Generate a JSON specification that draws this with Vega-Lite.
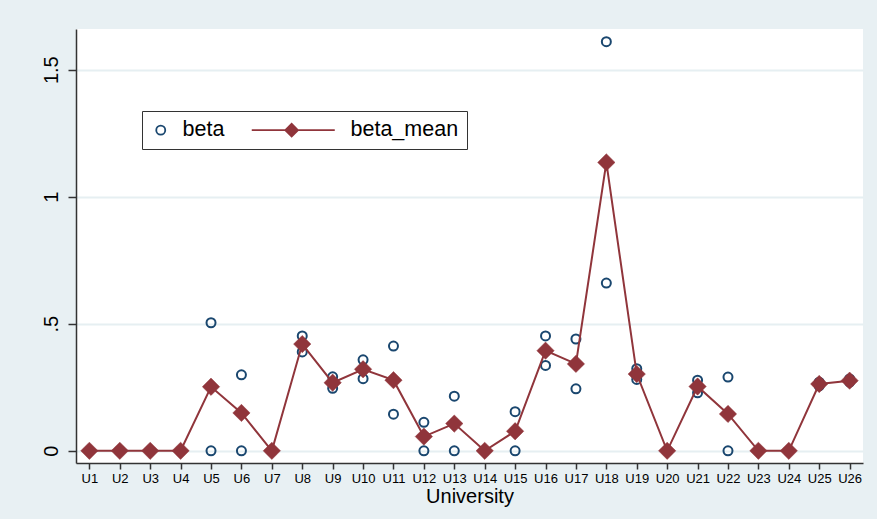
{
  "$schema": "https://vega.github.io/schema/vega-lite/v6.json",
  "width": 787,
  "height": 434,
  "autosize": {"type": "none"},
  "padding": {"left": 76, "top": 29, "right": 14, "bottom": 56},
  "background": "#e8f0f3",
  "config": {
    "view": {"fill": "white", "stroke": null},
    "axis": {"domainColor": "#333", "domainWidth": 1.5, "tickColor": "#333", "tickWidth": 1.5, "labelFont": "Liberation Sans", "titleFont": "Liberation Sans", "labelColor": "#000", "titleColor": "#000", "titleFontWeight": "normal"},
    "legend": {"labelFont": "Liberation Sans", "labelFontSize": 21.5, "labelColor": "#000", "strokeColor": "#333", "fillColor": "#ffffff", "padding": 8, "labelOffset": 11, "columnPadding": 23, "symbolStrokeWidth": 1.8}
  },
  "data": {"values": [
    {"u": "U1", "series": "beta", "value": 0}, {"u": "U1", "series": "beta", "value": 0},
    {"u": "U2", "series": "beta", "value": 0}, {"u": "U2", "series": "beta", "value": 0},
    {"u": "U3", "series": "beta", "value": 0}, {"u": "U3", "series": "beta", "value": 0},
    {"u": "U4", "series": "beta", "value": 0}, {"u": "U4", "series": "beta", "value": 0},
    {"u": "U5", "series": "beta", "value": 0.504}, {"u": "U5", "series": "beta", "value": 0},
    {"u": "U6", "series": "beta", "value": 0.299}, {"u": "U6", "series": "beta", "value": 0},
    {"u": "U7", "series": "beta", "value": 0}, {"u": "U7", "series": "beta", "value": 0},
    {"u": "U8", "series": "beta", "value": 0.452}, {"u": "U8", "series": "beta", "value": 0.389},
    {"u": "U9", "series": "beta", "value": 0.291}, {"u": "U9", "series": "beta", "value": 0.246},
    {"u": "U10", "series": "beta", "value": 0.358}, {"u": "U10", "series": "beta", "value": 0.284},
    {"u": "U11", "series": "beta", "value": 0.412}, {"u": "U11", "series": "beta", "value": 0.144},
    {"u": "U12", "series": "beta", "value": 0.112}, {"u": "U12", "series": "beta", "value": 0},
    {"u": "U13", "series": "beta", "value": 0.215}, {"u": "U13", "series": "beta", "value": 0},
    {"u": "U14", "series": "beta", "value": 0}, {"u": "U14", "series": "beta", "value": 0},
    {"u": "U15", "series": "beta", "value": 0.154}, {"u": "U15", "series": "beta", "value": 0},
    {"u": "U16", "series": "beta", "value": 0.452}, {"u": "U16", "series": "beta", "value": 0.336},
    {"u": "U17", "series": "beta", "value": 0.440}, {"u": "U17", "series": "beta", "value": 0.244},
    {"u": "U18", "series": "beta", "value": 1.610}, {"u": "U18", "series": "beta", "value": 0.660},
    {"u": "U19", "series": "beta", "value": 0.323}, {"u": "U19", "series": "beta", "value": 0.281},
    {"u": "U20", "series": "beta", "value": 0}, {"u": "U20", "series": "beta", "value": 0},
    {"u": "U21", "series": "beta", "value": 0.278}, {"u": "U21", "series": "beta", "value": 0.228},
    {"u": "U22", "series": "beta", "value": 0.290}, {"u": "U22", "series": "beta", "value": 0},
    {"u": "U23", "series": "beta", "value": 0}, {"u": "U23", "series": "beta", "value": 0},
    {"u": "U24", "series": "beta", "value": 0}, {"u": "U24", "series": "beta", "value": 0},
    {"u": "U25", "series": "beta", "value": 0.270}, {"u": "U25", "series": "beta", "value": 0.256},
    {"u": "U26", "series": "beta", "value": 0.283}, {"u": "U26", "series": "beta", "value": 0.270},
    {"u": "U1", "series": "beta_mean", "value": 0},
    {"u": "U2", "series": "beta_mean", "value": 0},
    {"u": "U3", "series": "beta_mean", "value": 0},
    {"u": "U4", "series": "beta_mean", "value": 0},
    {"u": "U5", "series": "beta_mean", "value": 0.252},
    {"u": "U6", "series": "beta_mean", "value": 0.149},
    {"u": "U7", "series": "beta_mean", "value": 0},
    {"u": "U8", "series": "beta_mean", "value": 0.420},
    {"u": "U9", "series": "beta_mean", "value": 0.268},
    {"u": "U10", "series": "beta_mean", "value": 0.321},
    {"u": "U11", "series": "beta_mean", "value": 0.278},
    {"u": "U12", "series": "beta_mean", "value": 0.056},
    {"u": "U13", "series": "beta_mean", "value": 0.107},
    {"u": "U14", "series": "beta_mean", "value": 0},
    {"u": "U15", "series": "beta_mean", "value": 0.077},
    {"u": "U16", "series": "beta_mean", "value": 0.394},
    {"u": "U17", "series": "beta_mean", "value": 0.342},
    {"u": "U18", "series": "beta_mean", "value": 1.135},
    {"u": "U19", "series": "beta_mean", "value": 0.302},
    {"u": "U20", "series": "beta_mean", "value": 0},
    {"u": "U21", "series": "beta_mean", "value": 0.253},
    {"u": "U22", "series": "beta_mean", "value": 0.145},
    {"u": "U23", "series": "beta_mean", "value": 0},
    {"u": "U24", "series": "beta_mean", "value": 0},
    {"u": "U25", "series": "beta_mean", "value": 0.263},
    {"u": "U26", "series": "beta_mean", "value": 0.276}
  ]},
  "encoding": {
    "x": {
      "field": "u", "type": "nominal",
      "scale": {"type": "point", "padding": 0.44, "domain": ["U1","U2","U3","U4","U5","U6","U7","U8","U9","U10","U11","U12","U13","U14","U15","U16","U17","U18","U19","U20","U21","U22","U23","U24","U25","U26"]},
      "axis": {"title": "University", "titleFontSize": 20, "titlePadding": 1, "labelFontSize": 13, "labelAngle": 0, "tickSize": 6, "labelPadding": 3, "grid": false}
    },
    "y": {
      "field": "value", "type": "quantitative",
      "scale": {"domain": [-0.048, 1.66], "nice": false, "zero": false},
      "axis": {"title": null, "values": [0, 0.5, 1, 1.5], "labelExpr": "replace(format(datum.value, '~g'), '0.', '.')", "labelFontSize": 20, "labelAngle": -90, "tickSize": 8, "labelPadding": 7, "grid": true, "gridColor": "#e6eff2", "gridWidth": 2}
    }
  },
  "layer": [
    {
      "transform": [{"filter": "datum.series === 'beta'"}],
      "mark": {"type": "point", "strokeWidth": 2, "opacity": 1},
      "encoding": {
        "shape": {"field": "series", "type": "nominal", "scale": {"domain": ["beta", "beta_mean"], "range": ["circle", "M-11,0L0.86,0M-6.2,0L-5.3,-0.9L-4.4,0L-5.3,0.9Z"]}, "legend": {
          "title": null, "orient": "none", "direction": "horizontal", "legendX": 66, "legendY": 82
        }},
        "size": {"field": "series", "type": "nominal", "scale": {"domain": ["beta", "beta_mean"], "range": [81, 196]}},
        "stroke": {"field": "series", "type": "nominal", "scale": {"domain": ["beta", "beta_mean"], "range": ["#1a476f", "#90353b"]}},
        "fill": {"field": "series", "type": "nominal", "scale": {"domain": ["beta", "beta_mean"], "range": ["transparent", "#90353b"]}}
      }
    },
    {
      "transform": [{"filter": "datum.series === 'beta_mean'"}],
      "mark": {"type": "line", "color": "#90353b", "strokeWidth": 2},
      "encoding": {}
    },
    {
      "transform": [{"filter": "datum.series === 'beta_mean'"}],
      "mark": {"type": "point", "shape": "diamond", "size": 300, "strokeWidth": 0.5, "opacity": 1, "filled": true, "color": "#90353b", "stroke": "#90353b"},
      "encoding": {}
    }
  ]
}
